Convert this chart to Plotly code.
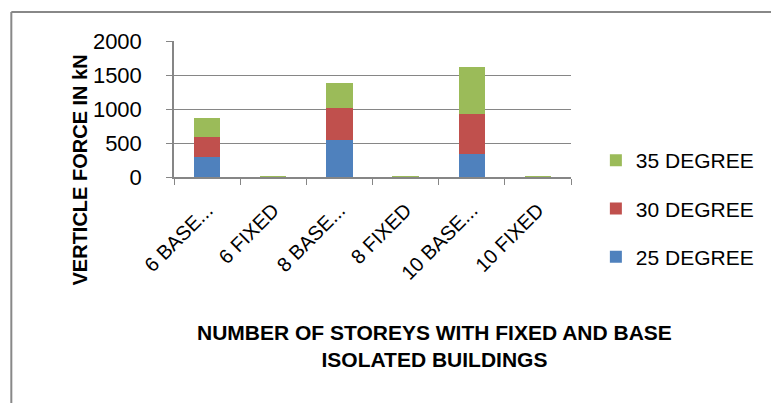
import plotly.graph_objects as go

# Vertical force for each building case
categories = ['6 BASE...', '6 FIXED', '8 BASE...', '8 FIXED', '10 BASE...', '10 FIXED']
deg25 = [300, 4, 550, 4, 340, 4]
deg30 = [290, 4, 465, 4, 590, 4]
deg35 = [285, 4, 370, 4, 690, 4]

series_names = ['25 DEGREE', '30 DEGREE', '35 DEGREE']
series_colors = ['#4F81BD', '#C0504D', '#9BBB59']
legend_ranks = [3, 2, 1]

W, H = 771, 403
L, R, T, B = 174, 573, 41, 177   # plot area in pixels
FONT = 'Liberation Sans'


def px_x(p):
    return (p - L) / (R - L)


def px_y(p):
    return (B - p) / (B - T)


fig = go.Figure()
for name, vals, col, rank in zip(series_names, [deg25, deg30, deg35], series_colors, legend_ranks):
    fig.add_trace(go.Bar(x=categories, y=vals, name=name, legendgroup=name, legendrank=rank,
                         marker_color=col, marker_line_width=0))

fig.update_layout(
    width=W, height=H,
    margin=dict(l=L, r=W - R, t=T, b=H - B),
    barmode='stack', bargap=0.6,
    plot_bgcolor='white', paper_bgcolor='white',
    font=dict(family=FONT, color='black'),
    showlegend=True,
    legend=dict(x=px_x(598), y=px_y(140), xanchor='left', yanchor='top',
                traceorder='grouped', tracegroupgap=18, maxheight=300,
                font=dict(family=FONT, size=21)),
)

fig.update_yaxes(range=[0, 2000], dtick=500, showgrid=True, gridcolor='#868686', gridwidth=1,
                 showline=True, linecolor='#868686', linewidth=1.5,
                 ticks='outside', ticklen=6, tickcolor='#868686',
                 ticklabelstandoff=20, zeroline=False,
                 tickfont=dict(family=FONT, size=22))
fig.update_xaxes(showline=True, linecolor='#868686', linewidth=1.5,
                 ticks='outside', ticklen=6, tickcolor='#868686', tickson='boundaries',
                 tickangle=-45, ticklabelstandoff=12, tickfont=dict(family=FONT, size=20))

annotations = []
# y title
annotations.append(dict(xref='paper', yref='paper', x=px_x(80), y=px_y(170),
                        xanchor='center', yanchor='middle', textangle=-90,
                        text='<b>VERTICLE FORCE IN kN</b>',
                        font=dict(family=FONT, size=20, color='black'),
                        showarrow=False))
# x title
annotations.append(dict(xref='paper', yref='paper', x=px_x(436), y=px_y(346),
                        xanchor='center', yanchor='middle',
                        text='<b>NUMBER OF STOREYS WITH FIXED AND BASE<br>ISOLATED BUILDINGS</b>',
                        font=dict(family=FONT, size=21, color='black'),
                        showarrow=False))
fig.update_layout(annotations=annotations)

# frame around the chart (only top and left edge fall inside the picture)
fig.add_shape(type='line', xref='paper', yref='paper', x0=px_x(10.5), y0=px_y(12), x1=px_x(790), y1=px_y(12),
              line=dict(color='#888888', width=2))
fig.add_shape(type='line', xref='paper', yref='paper', x0=px_x(10.5), y0=px_y(12), x1=px_x(10.5), y1=px_y(420),
              line=dict(color='#888888', width=2))

fig.write_html("out.html", config={'displayModeBar': False},
               post_script="document.body.style.margin='0';")
